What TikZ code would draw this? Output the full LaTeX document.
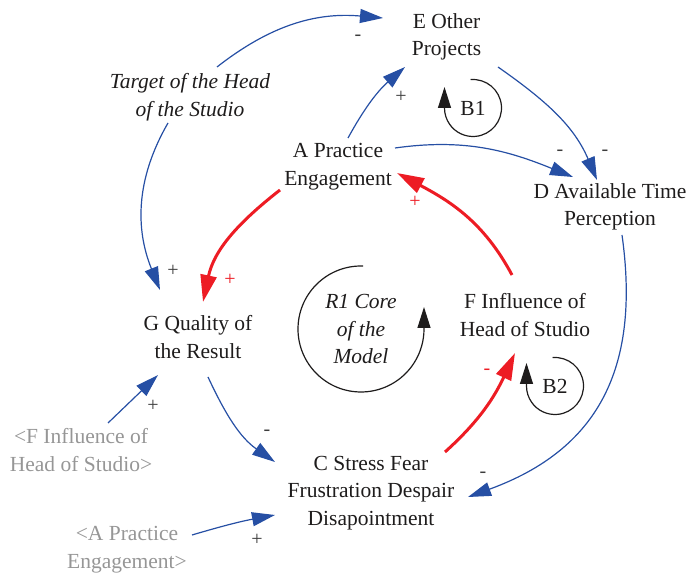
\documentclass[tikz,border=0pt]{standalone}
\usepackage{fontspec}
\setmainfont{Liberation Serif}
\usetikzlibrary{arrows.meta}
\definecolor{lnkblue}{RGB}{38,79,164}
\definecolor{lnkred}{RGB}{237,28,36}
\definecolor{shadowgray}{RGB}{150,150,150}
\definecolor{txtblack}{RGB}{30,28,28}
\definecolor{signgray}{RGB}{60,60,60}
\begin{document}
\begin{tikzpicture}[x=1pt,y=1pt,
  var/.style={align=center,inner sep=0pt,text=txtblack,font=\fontsize{21.5}{27.6}\selectfont},
  ivar/.style={var,font=\fontsize{21.5}{27.6}\selectfont\itshape},
  shadow/.style={var,text=shadowgray},
  blink/.style={draw=lnkblue,line width=1.2pt,-{Triangle[length=23pt,width=14pt]},color=lnkblue},
  rlink/.style={draw=lnkred,line width=3pt,-{Triangle[length=27pt,width=16pt]},color=lnkred},
  loopline/.style={draw=txtblack,line width=1.2pt,-{Triangle[length=21pt,width=13pt]},color=txtblack},
  sign/.style={text=signgray,font=\fontsize{20}{20}\selectfont,inner sep=0pt},
  rsign/.style={text=lnkred,font=\fontsize{20}{20}\selectfont,inner sep=0pt}]
\useasboundingbox (0,0) rectangle (689,576);

% variables
\node[var] (E) at (446.5,539) {E Other\\Projects};
\node[ivar] (T) at (190,479) {Target of the Head\\of the Studio};
\node[var] (A) at (338,409) {A Practice\\Engagement};
\node[var] (D) at (610,369) {D Available Time\\Perception};
\node[var] (G) at (198,239) {G Quality of\\the Result};
\node[ivar] (R1) at (361,247) {R1 Core\\of the\\Model};
\node[var] (F) at (525,261) {F Influence of\\Head of Studio};
\node[var] (C) at (371,83) {C Stress Fear\\Frustration Despair\\Disapointment};
\node[shadow] (FI) at (81,126) {<F Influence of\\Head of Studio>};
\node[shadow] (AP) at (127,26) {<A Practice\\Engagement>};
\node[var] (B1) at (473,468) {B1};
\node[var] (B2) at (555,190) {B2};

% loop markers
\draw[loopline] ([shift={(95:28.5)}]B1.center) arc[start angle=95,end angle=-180,radius=28.5] -- ++(0,21);
\draw[loopline] ([shift={(95:28.5)}]B2.center) arc[start angle=95,end angle=-180,radius=28.5] -- ++(0,23);
\draw[loopline] ([shift={(88:63)}]R1.center) arc[start angle=88,end angle=360,radius=63] -- ++(0,22);

% links
\draw[blink] ([shift={(10,29)}]A.center) to[bend left=10] ([shift={(-41.5,-30)}]E.center);
\draw[blink] ([shift={(27,30)}]T.center) to[out=38,in=175] ([shift={(-63.5,19)}]E.center);
\draw[blink] ([shift={(-22,-26)}]T.center) to[out=240,in=112] ([shift={(-38,47)}]G.center);
\draw[rlink] ([shift={(-58,-23)}]A.center) to[out=218,in=78] ([shift={(5,35)}]G.center);
\draw[blink] ([shift={(57,19)}]A.center) to[out=8,in=158] ([shift={(-37,30)}]D.center);
\draw[blink] ([shift={(51.5,-30)}]E.center) to[out=-35,in=113] ([shift={(-13,27)}]D.center);
\draw[rlink] ([shift={(-13,40)}]F.center) to[out=118,in=-28] ([shift={(59,-6)}]A.center);
\draw[blink] ([shift={(12,-28)}]D.center) to[out=-82,in=20,looseness=1.15] ([shift={(97,-4)}]C.center);
\draw[blink] ([shift={(10,-40)}]G.center) to[out=-65,in=145] ([shift={(-96,31)}]C.center);
\draw[rlink] ([shift={(74,41)}]C.center) to[out=42,in=245] ([shift={(-10,-38)}]F.center);
\draw[blink] ([shift={(27,27)}]FI.center) -- ([shift={(-40,-38)}]G.center);
\draw[blink] ([shift={(65,15)}]AP.center) to[bend left=3] ([shift={(-96,-22)}]C.center);

% polarities
\node[sign] (s1) at (401,479) {+};
\node[sign] (s2) at (358,538) {-};
\node[sign] (s3) at (173,305) {+};
\node[rsign] (s4) at (230,296) {+};
\node[sign] (s5) at (560,423) {-};
\node[sign] (s6) at (605,423) {-};
\node[rsign] (s7) at (415,374) {+};
\node[sign] (s8) at (483,101) {-};
\node[sign] (s9) at (267,143) {-};
\node[rsign] (s10) at (487,204) {-};
\node[sign] (s11) at (153,170) {+};
\node[sign] (s12) at (257,36) {+};
\end{tikzpicture}
\end{document}
